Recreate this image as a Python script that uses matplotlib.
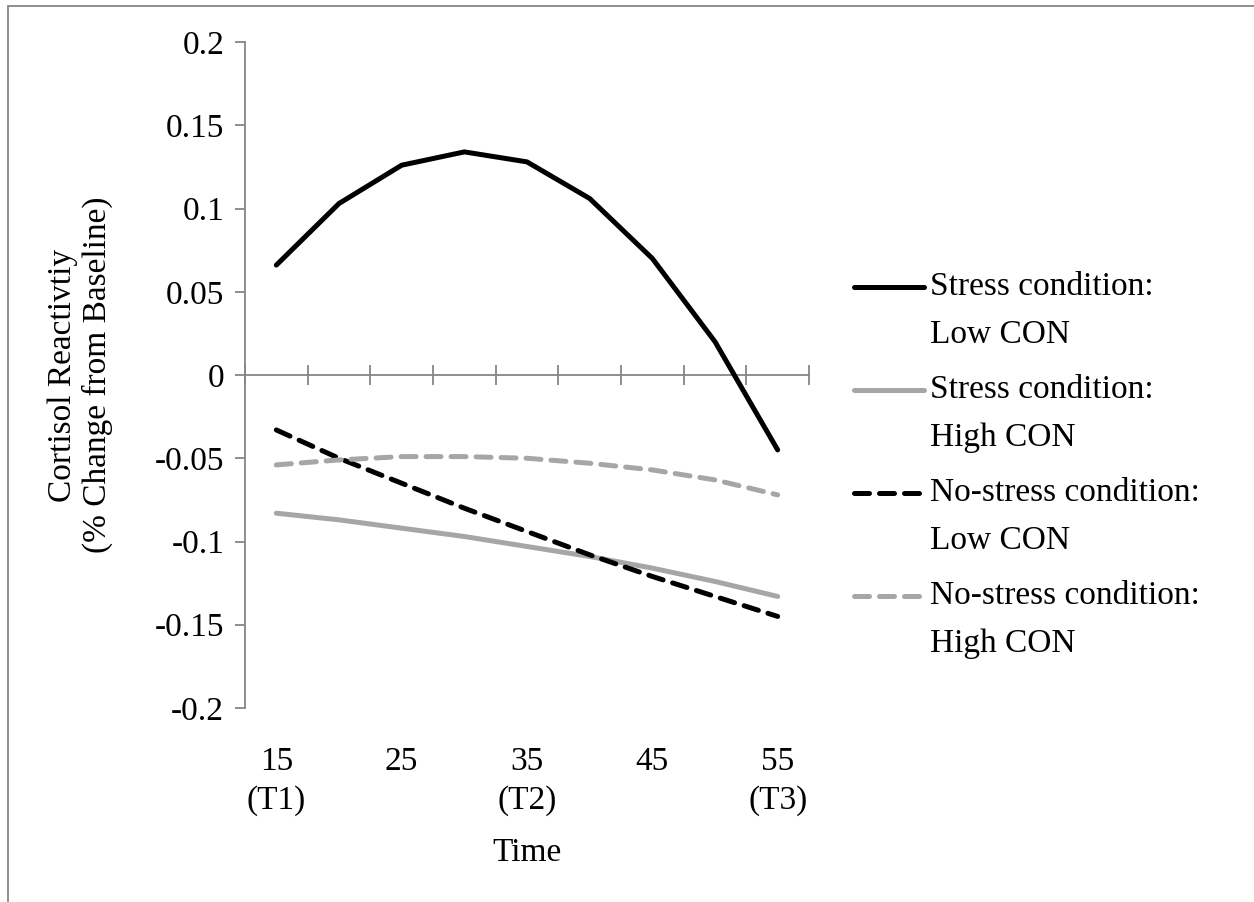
import matplotlib
matplotlib.use("Agg")
import matplotlib.pyplot as plt
from matplotlib.lines import Line2D
from matplotlib.patches import Rectangle

plt.rcParams['font.family'] = ['Liberation Serif', 'DejaVu Serif']

# ---- data ----
time_points = [15, 20, 25, 30, 35, 40, 45, 50, 55]
tick_labels = {15: "15\n(T1)", 25: "25", 35: "35\n(T2)", 45: "45", 55: "55\n(T3)"}

stress_low = [0.066, 0.103, 0.126, 0.134, 0.128, 0.106, 0.070, 0.020, -0.045]
stress_high = [-0.083, -0.087, -0.092, -0.097, -0.103, -0.109, -0.116, -0.124, -0.133]
nostress_low = [-0.033, -0.050, -0.065, -0.080, -0.094, -0.108, -0.121, -0.133, -0.145]
nostress_high = [-0.054, -0.051, -0.049, -0.049, -0.050, -0.053, -0.057, -0.063, -0.072]

series_labels = [("Stress condition:", "Low CON"),
                 ("Stress condition:", "High CON"),
                 ("No-stress condition:", "Low CON"),
                 ("No-stress condition:", "High CON")]
series_values = [stress_low, stress_high, nostress_low, nostress_high]
series_colors = ["#000000", "#A6A6A6", "#000000", "#A6A6A6"]
series_dashed = [False, False, True, True]

y_ticks = [-0.2, -0.15, -0.1, -0.05, 0, 0.05, 0.1, 0.15, 0.2]

# ---- figure ----
W, H = 1254, 902
fig = plt.figure(figsize=(W / 100, H / 100), dpi=100)
ax = fig.add_axes([245 / W, 1 - 708 / H, (809 - 245) / W, (708 - 42) / H])

AXIS_GRAY = "#868686"
LW = 3.6
FS = 24
DASH = (3.0, 2.0)

xpos = list(range(len(time_points)))
for vals, col, dashed in zip(series_values, series_colors, series_dashed):
    kw = dict(color=col, lw=LW, solid_capstyle='round', dash_capstyle='round',
              solid_joinstyle='miter', zorder=3)
    if dashed:
        ax.plot(xpos, vals, dashes=DASH, **kw)
    else:
        ax.plot(xpos, vals, **kw)

ax.set_xlim(-0.5, len(time_points) - 0.5)
ax.set_ylim(min(y_ticks), max(y_ticks))

# y axis
ax.set_yticks(y_ticks)
ax.set_yticklabels([f"{v:g}" for v in y_ticks], fontsize=FS)
ax.tick_params(axis='y', direction='out', length=7, width=1.3, color=AXIS_GRAY, pad=8)
ax.spines['left'].set_color(AXIS_GRAY)
ax.spines['left'].set_linewidth(1.3)
for s in ['top', 'right', 'bottom']:
    ax.spines[s].set_visible(False)

# category labels at bottom (low position)
lab_pos = [time_points.index(t) for t in tick_labels]
ax.set_xticks(lab_pos)
ax.set_xticklabels(list(tick_labels.values()), fontsize=FS, linespacing=1.35, va='top')
ax.tick_params(axis='x', length=0, pad=28)

# horizontal axis at y = 0 with tick marks between categories
sec = ax.secondary_xaxis(0.5)
sec.set_xticks([i - 0.5 for i in range(len(time_points) + 1)])
sec.set_xticklabels([])
sec.tick_params(axis='x', which='both', direction='inout', length=15, width=1.3,
                color=AXIS_GRAY, labelbottom=False, labeltop=False)
for sp in sec.spines.values():
    sp.set_color(AXIS_GRAY)
    sp.set_linewidth(1.3)

ax.set_xlabel("Time", fontsize=FS, labelpad=15)
ax.set_ylabel("Cortisol Reactivtiy\n(% Change from Baseline)", fontsize=FS,
              linespacing=1.15, labelpad=30)

# legend (Excel style: marker aligned with first text line)
top_y = 287
pitch = 103
line_gap = 48
for i, ((l1, l2), col, dashed) in enumerate(zip(series_labels, series_colors, series_dashed)):
    y = top_y + i * pitch
    kw = dict(color=col, lw=LW, solid_capstyle='round', dash_capstyle='round',
              transform=fig.transFigure)
    if dashed:
        ln = Line2D([854 / W, 922 / W], [1 - y / H, 1 - y / H], dashes=DASH, **kw)
    else:
        ln = Line2D([854 / W, 924 / W], [1 - y / H, 1 - y / H], **kw)
    fig.add_artist(ln)
    fig.text(930 / W, 1 - y / H, l1, fontsize=FS, va='center', ha='left')
    fig.text(930 / W, 1 - (y + line_gap) / H, l2, fontsize=FS, va='center', ha='left')

# chart area border
fig.add_artist(Rectangle((8 / W, -0.1), 1.2, 1 - 6 / H + 0.1, transform=fig.transFigure,
                         fill=False, edgecolor=AXIS_GRAY, lw=1.3))

fig.savefig("out.png", dpi=100)
